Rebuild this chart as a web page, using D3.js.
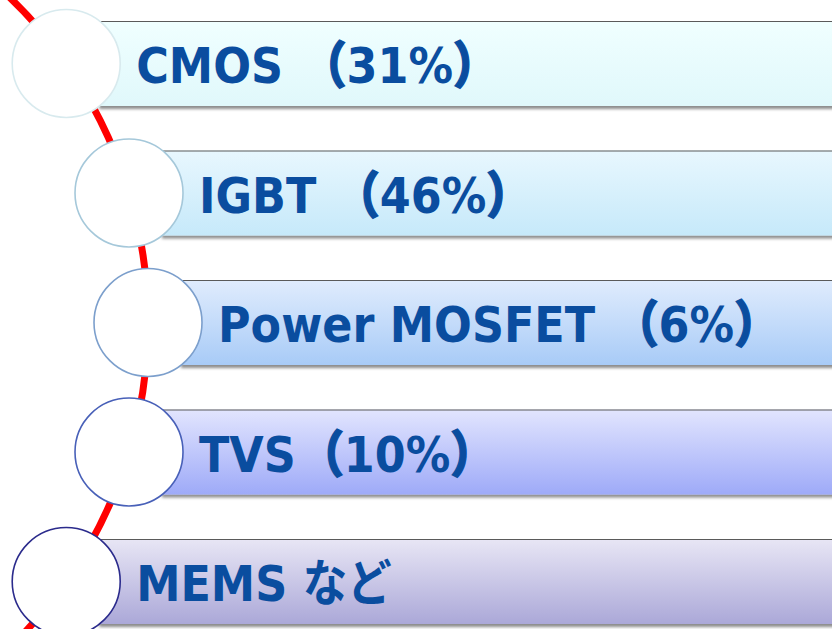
<!DOCTYPE html>
<html>
<head>
<meta charset="utf-8">
<script src="https://cdn.jsdelivr.net/npm/d3@7"></script>
<style>
  html, body { margin: 0; padding: 0; background: #fff; }
  #chart { width: 832px; height: 629px; overflow: hidden; }
</style>
</head>
<body>
<div id="chart"></div>
<script>
// device categories and their share (MEMS etc. has no figure)
var names = ["CMOS", "IGBT", "Power MOSFET", "TVS", "MEMS"];
var shares = [31, 46, 6, 10, null];
var gaps = [" ", " ", " ", "", " "];
var restLabel = "など";

// bar colours, top -> bottom of the gradient, and circle rims
var barTop = ["#f0ffff", "#e8f7fe", "#e0ecfd", "#e2e5fe", "#e8e6f5"];
var barBottom = ["#e0f8fb", "#c6e9fa", "#a8cbf7", "#9eaaf8", "#aba8d8"];
var rimColors = ["#d8eaee", "#a5c8da", "#7c9fcc", "#4860b8", "#2b2b8c"];
var textColor = "#0a4d9f";

var width = 832, height = 629;
var barH = 85, radius = 54;

var svg = d3.select("#chart").append("svg")
    .attr("width", width)
    .attr("height", height);

var defs = svg.append("defs");

// soft shadow under each bar
var shadow = defs.append("filter")
    .attr("id", "shadow")
    .attr("x", "-5%").attr("y", "-20%")
    .attr("width", "110%").attr("height", "150%");
shadow.append("feDropShadow")
    .attr("dx", 0).attr("dy", 3)
    .attr("stdDeviation", 1.6)
    .attr("flood-color", "#000")
    .attr("flood-opacity", 0.45);

names.forEach(function(d, i) {
    var g = defs.append("linearGradient")
        .attr("id", "grad" + i)
        .attr("x1", 0).attr("y1", 0).attr("x2", 0).attr("y2", 1);
    g.append("stop").attr("offset", "0%").attr("stop-color", barTop[i]);
    g.append("stop").attr("offset", "100%").attr("stop-color", barBottom[i]);
});

// row centres
var y = d3.scalePoint()
    .domain(names)
    .range([63.5, 581.5]);

// the red guide is part of a big circle off to the left
var arcCx = -303, arcCy = (y.range()[0] + y.range()[1]) / 2, arcR = 451;
function arcX(yy) {
    return arcCx + Math.sqrt(arcR * arcR - (yy - arcCy) * (yy - arcCy));
}

var a0 = Math.asin((-20 - arcCy) / arcR);
var a1 = Math.asin((height + 20 - arcCy) / arcR);
var p = d3.path();
p.arc(arcCx, arcCy, arcR, a0, a1);

svg.append("path")
    .attr("d", p.toString())
    .attr("fill", "none")
    .attr("stroke", "#ff0000")
    .attr("stroke-width", 7);

var rows = svg.selectAll("g.row")
    .data(names)
    .enter().append("g")
    .attr("class", "row");

// bars
rows.append("rect")
    .attr("x", function(d) { return arcX(y(d)) + 33; })
    .attr("y", function(d) { return y(d) - barH / 2; })
    .attr("width", function(d) { return width + 10 - (arcX(y(d)) + 33); })
    .attr("height", barH)
    .attr("fill", function(d, i) { return "url(#grad" + i + ")"; })
    .attr("filter", "url(#shadow)");

// thin dark top edge
rows.append("line")
    .attr("x1", function(d) { return arcX(y(d)) + 33; })
    .attr("x2", width)
    .attr("y1", function(d) { return y(d) - barH / 2 + 0.5; })
    .attr("y2", function(d) { return y(d) - barH / 2 + 0.5; })
    .attr("stroke", "#5a5a5a")
    .attr("stroke-width", 1);

// circles
rows.append("circle")
    .attr("cx", function(d) { return arcX(y(d)); })
    .attr("cy", function(d) { return y(d); })
    .attr("r", radius)
    .attr("fill", "#ffffff")
    .attr("stroke", function(d, i) { return rimColors[i]; })
    .attr("stroke-width", 1.6);

// labels
var labels = rows.append("text")
    .attr("transform", function(d) {
        return "translate(" + (arcX(y(d)) + 70) + "," + (y(d) + 19.5) + ") scale(0.89,1)";
    })
    .attr("font-family", "'DejaVu Sans', 'Noto Sans CJK JP', sans-serif")
    .attr("font-weight", "bold")
    .attr("font-size", 50)
    .attr("fill", textColor);

labels.append("tspan")
    .text(function(d, i) {
        return shares[i] == null ? d + gaps[i] + restLabel : d + gaps[i];
    });

labels.each(function(d, i) {
    if (shares[i] == null) return;
    var t = d3.select(this);
    t.append("tspan")
        .attr("dx", 4)
        .attr("font-family", "'Noto Sans CJK JP', sans-serif")
        .attr("font-weight", 900)
        .attr("stroke", textColor)
        .attr("stroke-width", 1.4)
        .text("（");
    t.append("tspan").text(shares[i] + "%");
    t.append("tspan")
        .attr("font-family", "'Noto Sans CJK JP', sans-serif")
        .attr("font-weight", 900)
        .attr("stroke", textColor)
        .attr("stroke-width", 1.4)
        .text("）");
});
</script>
</body>
</html>
